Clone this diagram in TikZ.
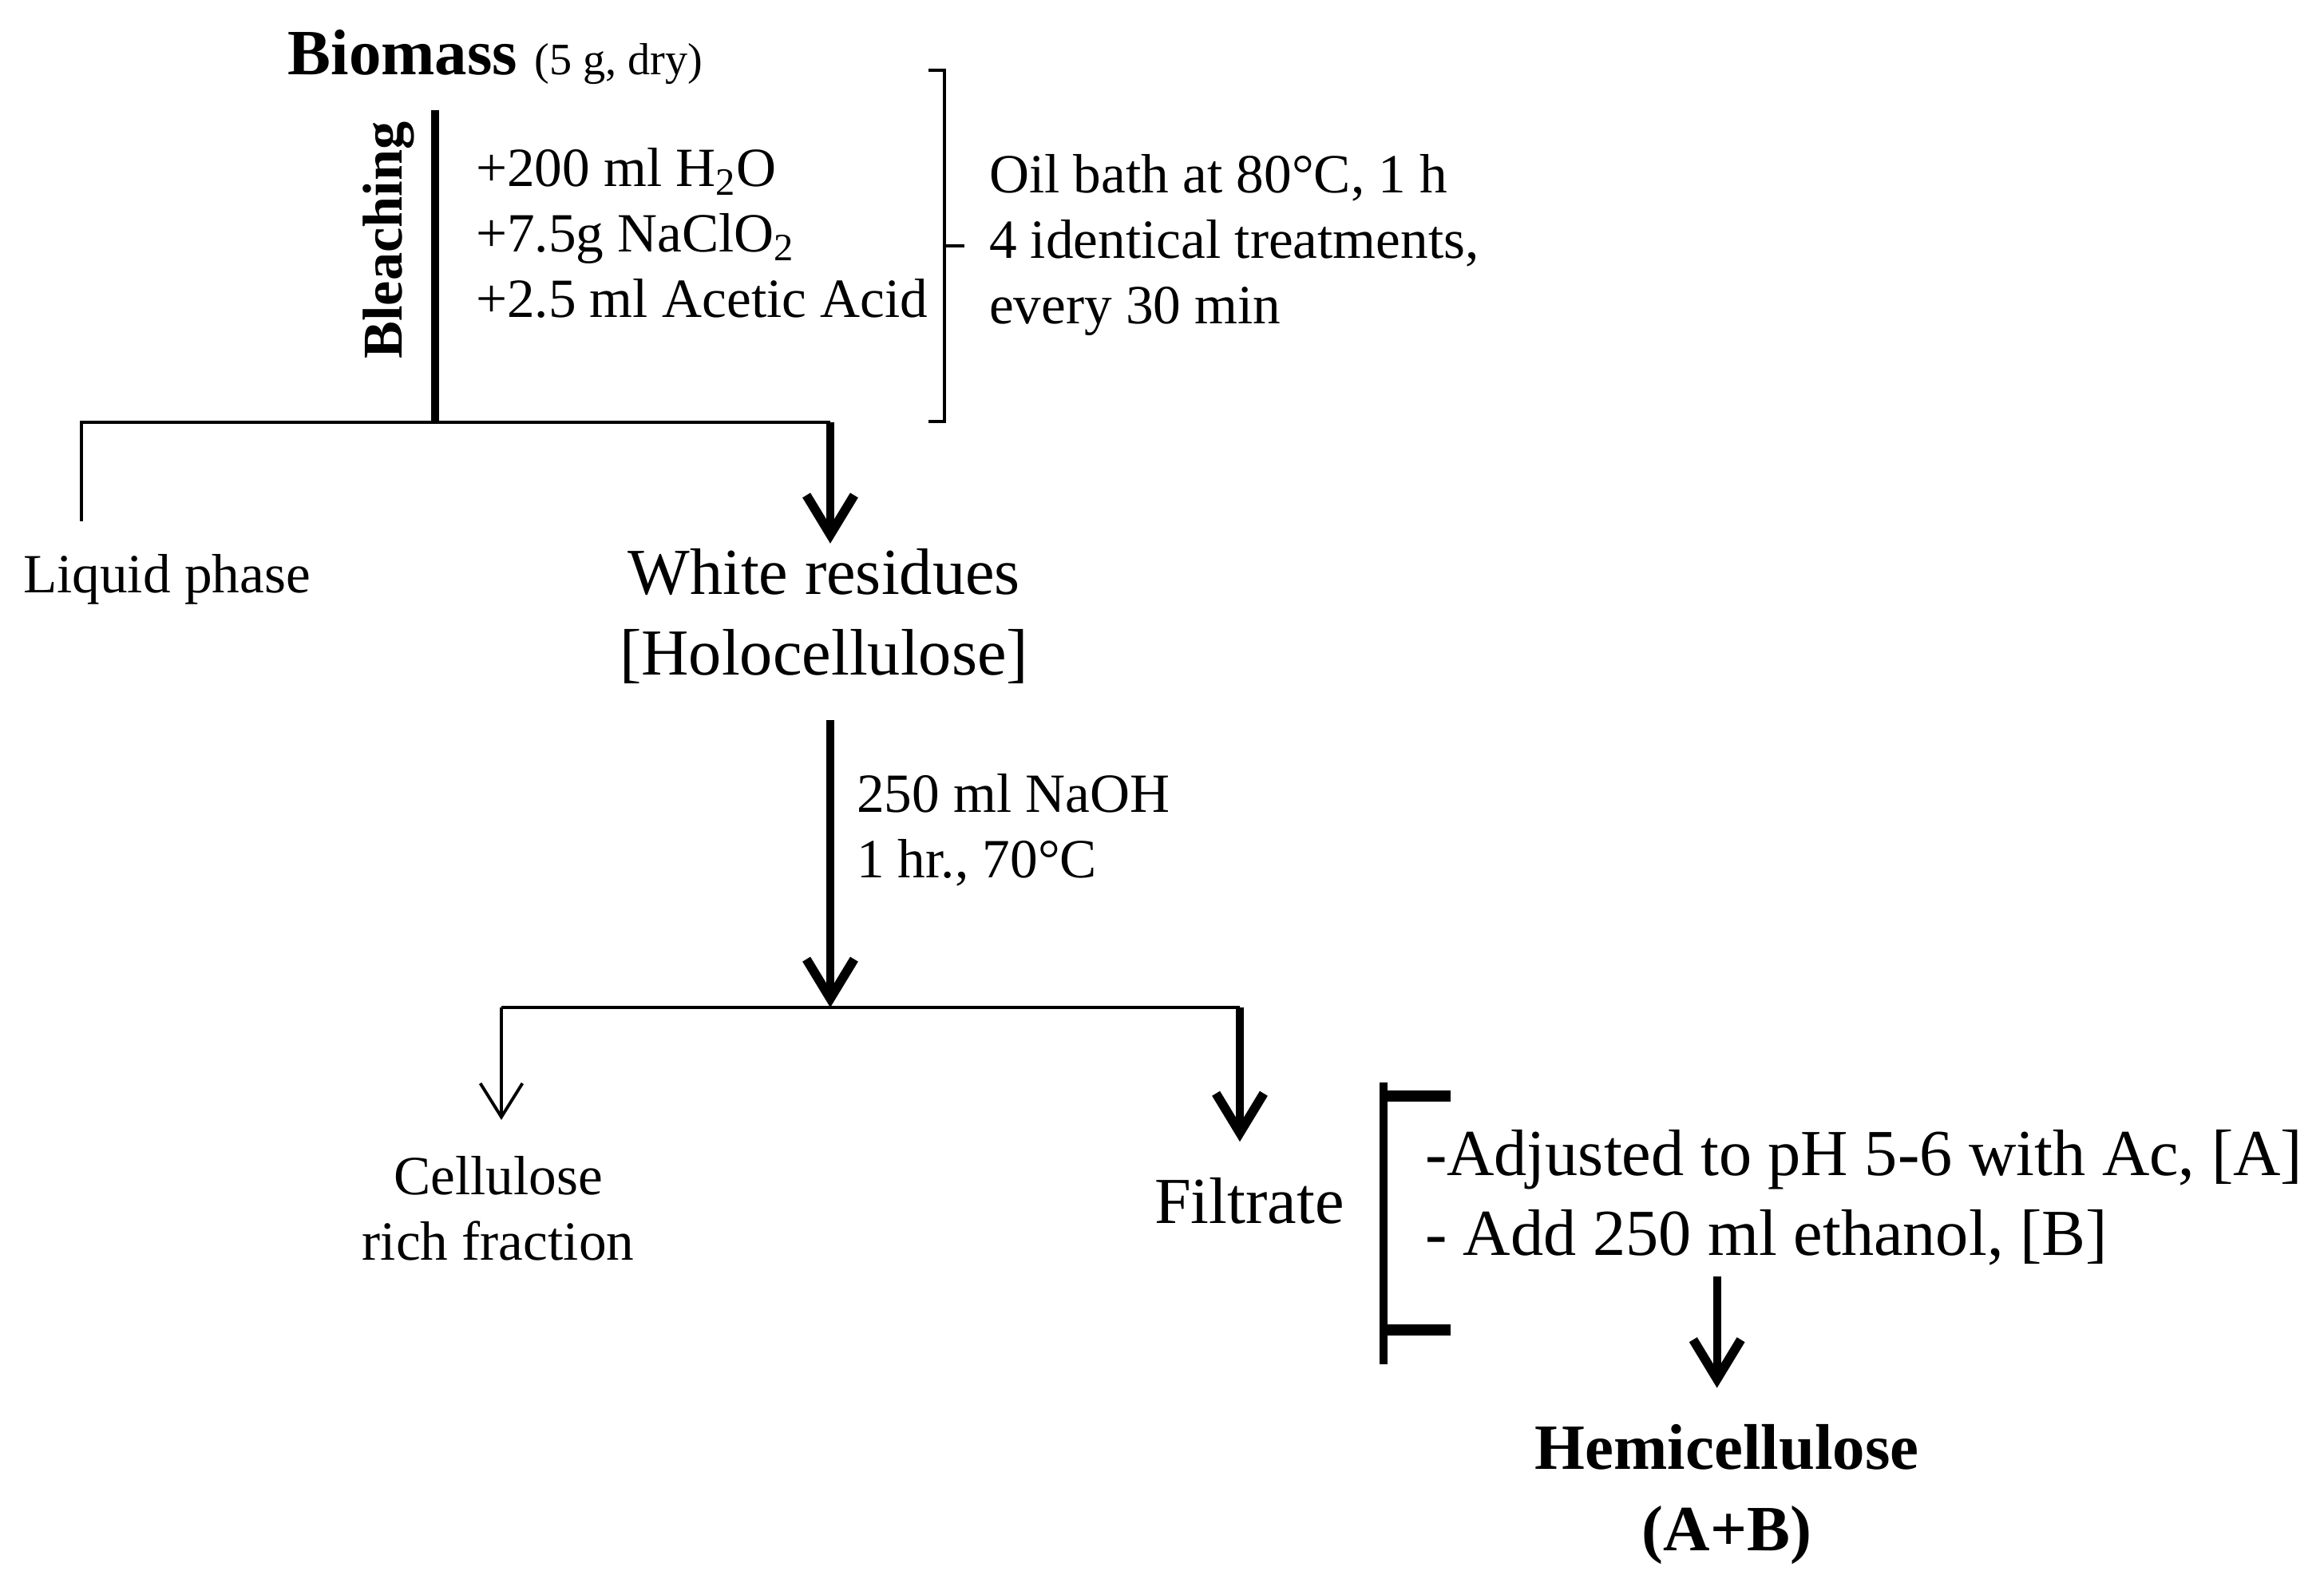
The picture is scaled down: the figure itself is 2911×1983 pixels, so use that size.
\documentclass[tikz,border=0pt]{standalone}
\usepackage{fontspec}
\setmainfont{Liberation Serif}
\usetikzlibrary{arrows.meta}

\begin{document}
\begin{tikzpicture}[x=0.01cm, y=-0.01cm,
  txt/.style={font=\fontsize{19.7}{23.3}\selectfont, inner sep=0pt, outer sep=0pt},
  big/.style={font=\fontsize{23.4}{28.5}\selectfont, inner sep=0pt, outer sep=0pt},
  rule/.style={line width=1.3pt},
  flow/.style={line width=2.8pt, -{Straight Barb[length=14pt, width=17pt, line width=3.3pt]}},
  side/.style={line width=1.1pt, -{Straight Barb[length=12pt, width=15pt]}}]
	\useasboundingbox (0,0) rectangle (2911,1983);
	% texts
	\node[anchor=base west, inner sep=0pt] (biomass) at (360,94) {\fontsize{23}{27}\selectfont\bfseries Biomass\hspace{6pt}{\mdseries\fontsize{16}{19}\selectfont (5 g, dry)}};
	\node[txt, font=\fontsize{20}{24}\selectfont\bfseries, rotate=90] (bleach) at (487,301) {Bleaching};
	\node[txt, align=left, anchor=west] (reagents) at (596,292) {+200 ml H\textsubscript{2}O\\+7.5g NaClO\textsubscript{2}\\+2.5 ml Acetic Acid};
	\node[txt, align=left, anchor=west] (oilbath) at (1239,307) {Oil bath at 80°C, 1 h\\4 identical treatments,\\every 30 min};
	\node[txt, anchor=base west] (liquid) at (29,743) {Liquid phase};
	\node[big, align=center] (white) at (1032,772) {White residues\\{[Holocellulose]}};
	\node[txt, align=left, anchor=west] (naoh) at (1073,1040) {250 ml NaOH\\1 hr., 70°C};
	\node[txt, align=center] (cellulose) at (624,1514) {Cellulose\\rich fraction};
	\node[big, anchor=base west] (filtrate) at (1446,1533) {Filtrate};
	\node[big, align=left, anchor=west] (steps) at (1785,1500) {-Adjusted to pH 5-6 with Ac, [A]\\- Add 250 ml ethanol, [B]};
	\node[big, font=\fontsize{23}{29}\selectfont\bfseries, align=center] (hemi) at (2163,1872) {Hemicellulose\\(A+B)};
	% branch points
	\coordinate (bartop) at (545,138);
	\coordinate (split1) at (545,529);
	\coordinate (liqend) at (102,653);
	\coordinate (wbranch) at (1040,529);
	\coordinate (split2) at (1040,1262);
	\coordinate (cellbranch) at (628,1262);
	\coordinate (filtbranch) at (1553,1262);
	% bleaching
	\draw[line width=2.8pt] (bartop) -- (split1);
	\draw[rule] (liqend) |- (wbranch);
	\draw[flow] (wbranch) -- ([yshift=2pt]wbranch |- white.north);
	\draw[line width=1.1pt] (1163,88) -- (1183,88) -- (1183,528) -- (1163,528) (1183,308) -- (1208,308);
	% alkaline step
	\draw[flow] ([yshift=-13pt]split2 |- white.south) -- (split2);
	\draw[rule] (cellbranch) -- (filtbranch);
	\draw[side] (cellbranch) -- ([yshift=13pt]cellbranch |- cellulose.north);
	\draw[flow] (filtbranch) -- ([yshift=13pt]filtbranch |- filtrate.north);
	% precipitation
	\draw[line width=3.1pt] (1733,1356) -- (1733,1709);
	\draw[line width=3.7pt] (1733,1373) -- (1817,1373) (1733,1666) -- (1817,1666);
	\draw[flow] ([xshift=-3.5pt, yshift=-4pt]hemi.north |- steps.south) -- ([xshift=-3.5pt, yshift=13pt]hemi.north);
\end{tikzpicture}
\end{document}
